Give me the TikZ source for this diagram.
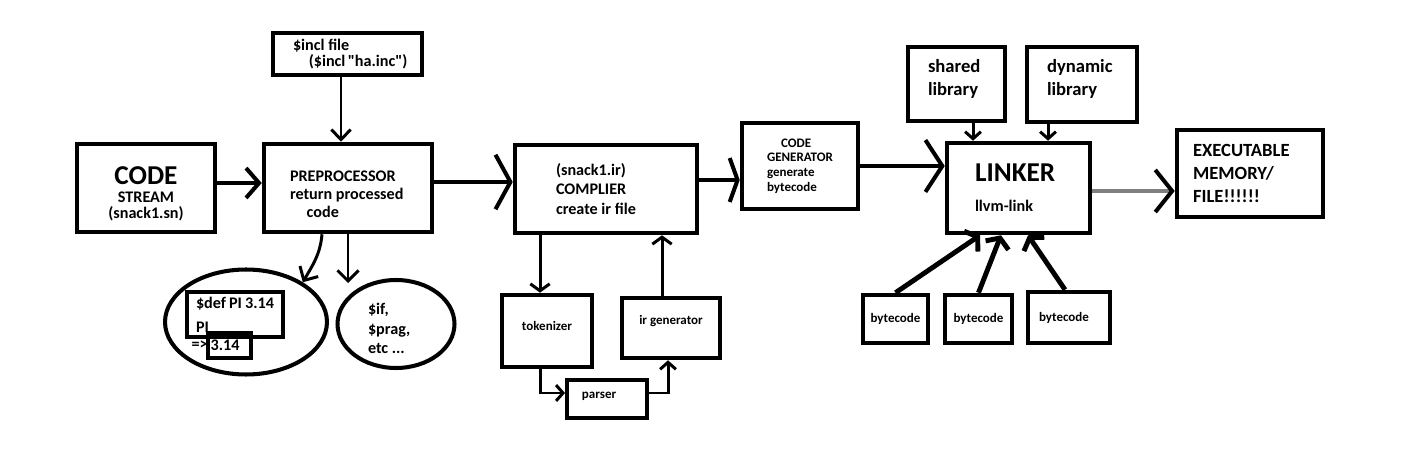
\documentclass[tikz,border=0pt]{standalone}
\usepackage{fontspec}
\setmainfont{Carlito}[Ligatures=TeXOff]
\usetikzlibrary{arrows.meta,shapes.geometric}

\begin{document}
\begin{tikzpicture}[x=0.02cm, y=-0.02cm,
    box/.style={draw, line width=2.6pt, inner sep=0pt, align=flush left},
    oval/.style={draw, ellipse, line width=2.3pt, inner sep=0pt, align=flush left},
    flow/.style={line width=2.3pt},
    thinflow/.style={line width=1.7pt},
    barb/.style 2 args={-{Straight Barb[length=#1,width=#2]}},
    txtsmall/.style={font=\bfseries\fontsize{7.4}{8.3}\selectfont},
    txtmed/.style={font=\bfseries\fontsize{9.2}{10.2}\selectfont},
    txtlib/.style={font=\bfseries\fontsize{10.6}{13}\selectfont},
  ]
    \useasboundingbox (0,0) rectangle (1420,452);

    \node[box, font=\bfseries\fontsize{9.2}{8.8}\selectfont, align=flush center, text width=2.3cm,
      minimum width=2.76cm, minimum height=1.76cm] (code) at (146,188)
      {\rule{0pt}{16.8pt}{\fontsize{15.5}{16}\selectfont CODE}\\[1.4pt]STREAM\\(snack1.sn)};
    \node[box, txtmed, text width=2.32cm, minimum width=3.36cm, minimum height=1.76cm]
      (pre) at (348,188) {\rule{0pt}{12.7pt}PREPROCESSOR\\return~processed\\\hspace*{9.5pt}code};
    \node[box, font=\bfseries\fontsize{9.2}{9}\selectfont, text width=2.18cm,
      minimum width=2.98cm, minimum height=0.84cm]
      (incl) at (347.5,54) {\$incl~file\\\hspace*{9pt}(\$incl~"ha.inc")};
    \node[box, font=\bfseries\fontsize{9.2}{11}\selectfont, text width=2cm,
      minimum width=3.64cm, minimum height=1.76cm]
      (comp) at (606,189) {(snack1.ir)\\COMPLIER\\create~ir~file};
    \node[box, txtsmall, text width=1.32cm, minimum width=2.32cm, minimum height=1.72cm]
      (gen) at (800,166) {\hspace*{8pt}CODE\\GENERATOR\\generate\\bytecode};
    \node[box, txtmed, text width=1.74cm, minimum width=2.86cm, minimum height=1.8cm]
      (link) at (1018.5,188) {{\fontsize{15.5}{16}\selectfont LINKER}\\[6.8pt]llvm-link};
    \node[box, txtlib, text width=1.14cm, minimum width=1.94cm, minimum height=1.48cm]
      (shared) at (956.5,84) {shared\\library\rule[-7.7pt]{0pt}{0pt}};
    \node[box, txtlib, text width=1.4cm, minimum width=2.2cm, minimum height=1.5cm]
      (dyn) at (1082,84.5) {dynamic\\library\rule[-7.7pt]{0pt}{0pt}};
    \node[box, txtlib, text width=2.28cm, minimum width=2.92cm, minimum height=1.74cm]
      (exe) at (1250,173.5) {EXECUTABLE\\MEMORY/\\FILE!!!!!!};

    \node[box, txtsmall, minimum width=1.3cm, minimum height=0.96cm] (bc1) at (895.5,319) {bytecode};
    \node[box, txtsmall, minimum width=1.34cm, minimum height=0.96cm] (bc2) at (978.5,319) {bytecode};
    \node[box, txtsmall, minimum width=1.64cm, minimum height=1.02cm] (bc3) at (1069,317.5) {bytecode\hspace*{5.7pt}};

    \node[box, txtsmall, minimum width=1.8cm, minimum height=1.44cm] (tok) at (547,331)
      {\raisebox{2.8pt}[\height][\depth]{tokenizer}};
    \node[box, txtsmall, minimum width=1.96cm, minimum height=1.2cm] (irg) at (671,328)
      {\raisebox{4pt}[\height][\depth]{ir generator}};
    \node[box, txtsmall, line width=2.2pt, minimum width=1.6cm, minimum height=0.76cm] (par) at (607,399)
      {\raisebox{1.7pt}[\height][\depth]{parser}\hspace*{9pt}};

    \node[oval, minimum width=3.24cm, minimum height=2.1cm] (defs) at (246,322) {};
    \node[oval, font=\bfseries\fontsize{9.2}{11.3}\selectfont, text width=1.12cm,
      minimum width=2.34cm, minimum height=1.76cm] (ifs) at (396,324)
      {\rule{0pt}{11.5pt}\$if,\\\$prag,\\etc~...};
    \node[box, line width=2.3pt, font=\bfseries\fontsize{9.2}{13.6}\selectfont, text width=1.56cm,
      minimum width=1.92cm, minimum height=0.9cm] (defbox) at (235,314.5) {\$def~PI~3.14\\PI};
    \node[box, txtmed, line width=2.3pt, minimum width=0.86cm, minimum height=0.5cm]
      (val) at (229.5,345.5) {3.14\hspace*{5pt}};
    \node[txtmed, inner sep=0pt, anchor=east] (maps) at ([xshift=0.04cm]val.west) {=>};

    \draw[flow, barb={7.4pt}{17pt}] ([yshift=0.1cm]code.east) -- ([yshift=0.1cm]code.east -| pre.west);
    \draw[flow, barb={8.5pt}{31pt}] ([yshift=0.12cm]pre.east) -- ([yshift=0.12cm]pre.east -| comp.west);
    \draw[flow, barb={4.5pt}{25pt}] ([yshift=0.18cm]comp.east) -- ([yshift=0.18cm]comp.east -| gen.west);
    \draw[flow, barb={9.6pt}{29.5pt}] (gen.east) -- (gen.east -| link.west);
    \draw[flow, black!50, -{Straight Barb[length=9.6pt,width=24pt,color=black]}]
      ([yshift=-0.06cm]link.east) -- ([yshift=-0.06cm]link.east -| exe.west);

    \draw[thinflow, barb={5.7pt}{11pt}] ([xshift=-0.13cm]incl.south) -- ([xshift=-0.13cm]incl.south |- pre.north);
    \draw[thinflow, barb={4pt}{9pt}] ([xshift=0.33cm]shared.south) -- ([xshift=0.33cm]shared.south |- link.north);
    \draw[thinflow, barb={4pt}{9pt}] ([xshift=-0.68cm]dyn.south) -- ([xshift=-0.68cm]dyn.south |- link.north);

    \draw[line width=2.8pt, barb={4.5pt}{14pt}] (bc1.north) -- ([xshift=-0.77cm]link.south);
    \draw[line width=2.8pt, barb={4.5pt}{14pt}] (bc2.north) -- ([xshift=-0.35cm]link.south);
    \draw[line width=2.8pt, barb={4.5pt}{14pt}] ([xshift=-0.08cm]bc3.north) -- ([xshift=0.19cm]link.south);

    \draw[thinflow, barb={4pt}{11pt}] ([xshift=-0.14cm]tok.north |- comp.south) -- ([xshift=-0.14cm]tok.north);
    \draw[thinflow, barb={4pt}{9pt}] ([xshift=-0.14cm]tok.south) |- ([yshift=0.12cm]par.west);
    \draw[thinflow, barb={4pt}{9pt}] ([yshift=0.12cm]par.east) -| ([xshift=-0.06cm]irg.south);
    \draw[thinflow, barb={4pt}{11pt}] ([xshift=-0.18cm]irg.north) -- ([xshift=-0.18cm]irg.north |- comp.south);

    \coordinate (ifend) at (348,283);
    \draw[thinflow, barb={6pt}{12pt}] ([xshift=-0.52cm]pre.south) to[out=-95, in=60] (defs.35);
    \draw[thinflow, barb={6pt}{12pt}] (pre.south) -- (ifend);
\end{tikzpicture}
\end{document}
